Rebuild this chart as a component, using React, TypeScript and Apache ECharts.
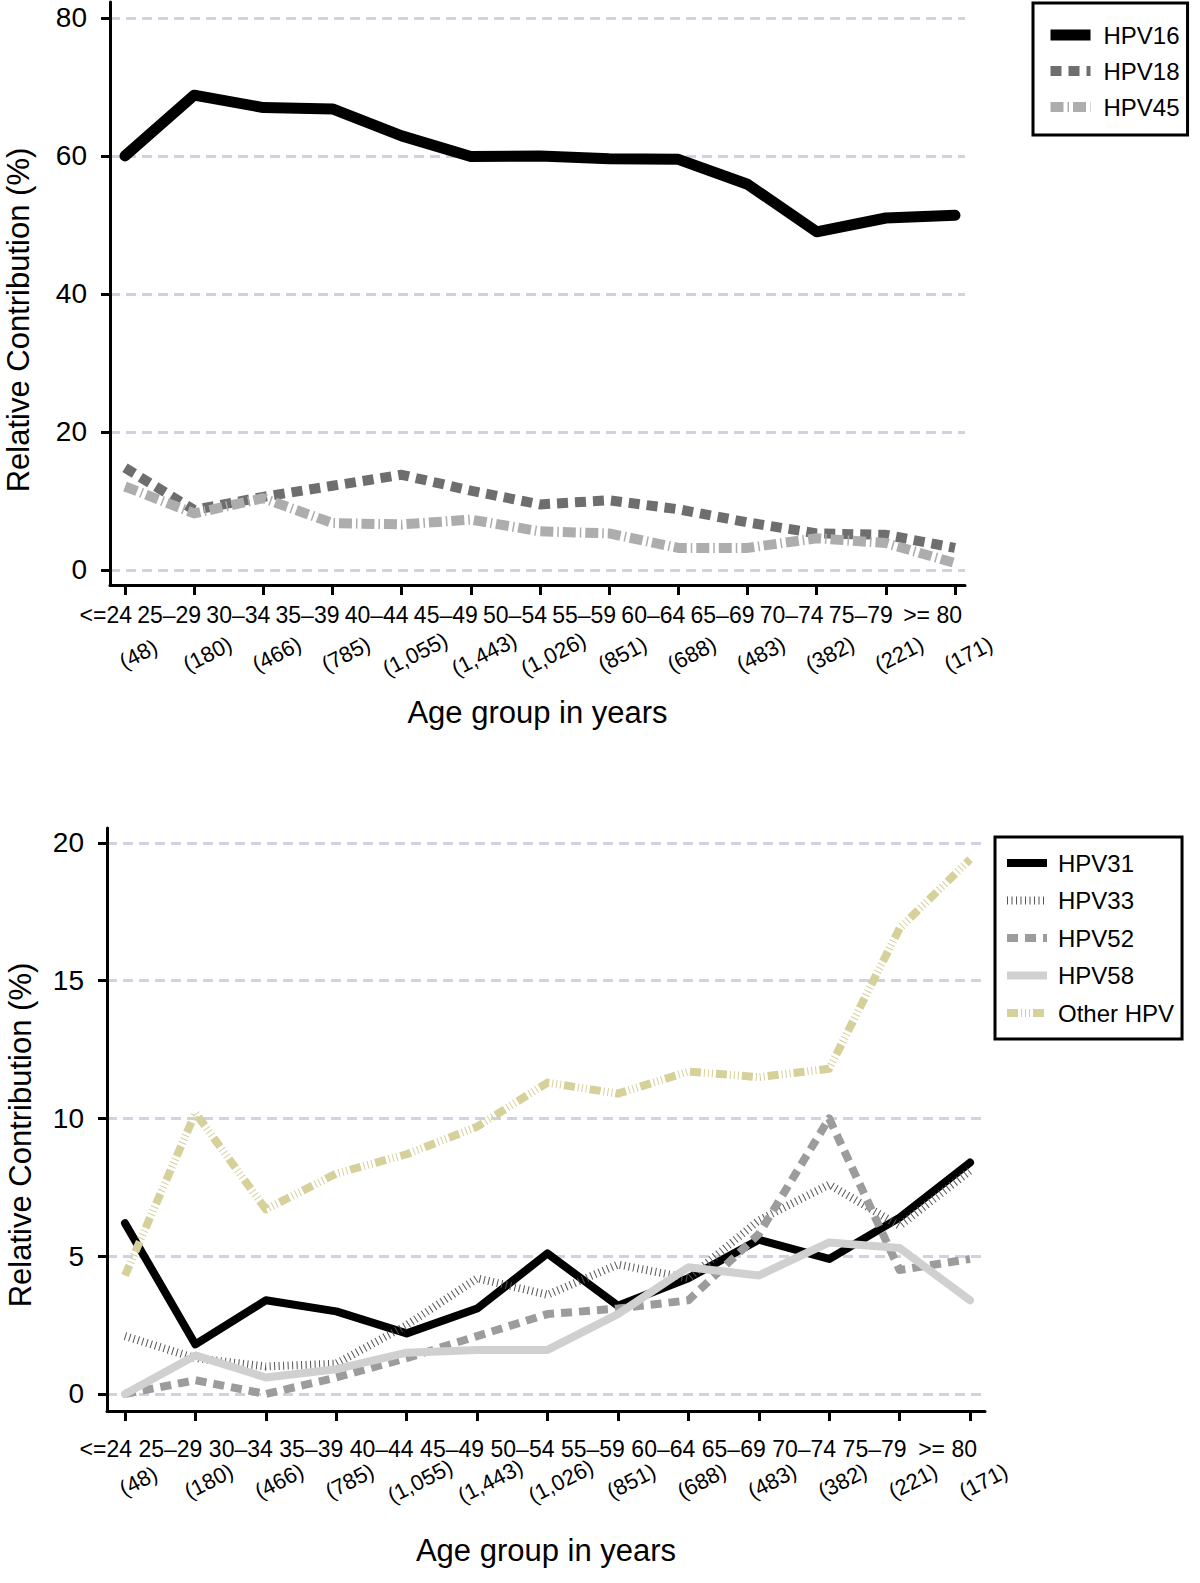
import React, { useEffect, useRef } from "react";
import * as echarts from "echarts";

const ageGroups = ["<=24", "25–29", "30–34", "35–39", "40–44", "45–49", "50–54", "55–59", "60–64", "65–69", "70–74", "75–79", ">= 80"];
const counts = ["(48)", "(180)", "(466)", "(785)", "(1,055)", "(1,443)", "(1,026)", "(851)", "(688)", "(483)", "(382)", "(221)", "(171)"];

// Top panel
const hpv16 = [60.0, 68.8, 67.0, 66.8, 62.9, 59.9, 60.0, 59.6, 59.5, 55.9, 49.0, 51.0, 51.4];
const hpv18 = [14.8, 8.7, 10.6, 12.2, 13.8, 11.5, 9.5, 10.1, 8.8, 6.9, 5.3, 5.1, 3.2];
const hpv45 = [12.1, 8.2, 10.4, 6.8, 6.6, 7.3, 5.6, 5.3, 3.2, 3.2, 4.6, 3.9, 1.0];

// Bottom panel
const hpv31 = [6.2, 1.8, 3.4, 3.0, 2.2, 3.1, 5.1, 3.2, 4.2, 5.6, 4.9, 6.4, 8.4];
const hpv33 = [2.1, 1.3, 1.0, 1.1, 2.5, 4.2, 3.6, 4.7, 4.2, 6.3, 7.6, 6.1, 8.1];
const hpv52 = [0.0, 0.5, 0.0, 0.6, 1.3, 2.1, 2.9, 3.1, 3.4, 5.8, 10.0, 4.5, 4.9];
const hpv58 = [0.0, 1.4, 0.6, 0.9, 1.5, 1.6, 1.6, 2.9, 4.6, 4.3, 5.5, 5.3, 3.4];
const otherHpv = [4.3, 10.2, 6.7, 8.0, 8.7, 9.7, 11.3, 10.9, 11.7, 11.5, 11.8, 16.9, 19.4];

const topTicks = [0, 20, 40, 60, 80];
const bottomTicks = [0, 5, 10, 15, 20];

const FONT = '"Liberation Sans", Arial, Helvetica, sans-serif';
const idx = ageGroups.map((_, i) => i);

function xAxes(gridIndex: number, min: number, max: number, labelMargin: number, countMargin: number, nameGap: number) {
  return [
    {
      type: "value",
      gridIndex,
      min,
      max,
      position: "bottom",
      axisLine: { show: true, onZero: false, lineStyle: { color: "#000", width: 3 } },
      axisTick: { show: true, length: 10, lineStyle: { color: "#000", width: 3 }, customValues: idx },
      axisLabel: {
        customValues: idx,
        formatter: (v: number) => ageGroups[Math.round(v)],
        fontSize: 23,
        fontFamily: FONT,
        color: "#000",
        margin: labelMargin,
        align: "right",
        padding: [0, -7, 0, 0],
      },
      splitLine: { show: false },
      name: "Age group in years",
      nameLocation: "middle",
      nameGap,
      nameTextStyle: { fontSize: 31, fontFamily: FONT, color: "#000" },
    },
    {
      type: "value",
      gridIndex,
      min,
      max,
      position: "bottom",
      axisLine: { show: false, onZero: false },
      axisTick: { show: false },
      axisLabel: {
        customValues: idx,
        formatter: (v: number) => counts[Math.round(v)],
        fontSize: 22,
        fontFamily: FONT,
        color: "#000",
        rotate: 27,
        align: "center",
        verticalAlign: "middle",
        margin: countMargin,
        padding: [0, 0, 0, 30],
      },
      splitLine: { show: false },
    },
  ];
}

function yAxis(gridIndex: number, min: number, max: number, ticks: number[]) {
  return {
    type: "value",
    gridIndex,
    min,
    max,
    axisLine: { show: true, onZero: false, lineStyle: { color: "#000", width: 3 } },
    axisTick: { show: true, length: 9, lineStyle: { color: "#000", width: 3 }, customValues: ticks },
    axisLabel: { customValues: ticks, fontSize: 28, fontFamily: FONT, color: "#000", margin: 23 },
    splitLine: { show: true, lineStyle: { color: "#cfd3df", width: 3, type: [10, 6] } },
  };
}

function line(name: string, values: number[], axis: number, color: string, width: number, dash: any, cap: string) {
  return {
    type: "line",
    name,
    xAxisIndex: axis === 0 ? 0 : 2,
    yAxisIndex: axis,
    data: values.map((v, i) => [i, v]),
    symbol: "none",
    showSymbol: false,
    itemStyle: { color },
    lineStyle: { color, width, type: dash, cap, join: "round" },
  };
}

export default function App() {
  const ref = useRef<HTMLDivElement>(null);
  useEffect(() => {
    if (!ref.current) return;
    const chart = echarts.init(ref.current, undefined, { renderer: "svg" });
    const legendCommon = {
      orient: "vertical",
      backgroundColor: "#fff",
      borderColor: "#000",
      borderWidth: 3,
      borderRadius: 0,
      itemWidth: 40,
      itemHeight: 14,
      selectedMode: false,
      itemStyle: { opacity: 0, borderWidth: 0 },
      lineStyle: { width: "inherit", cap: "butt" },
    };
    chart.setOption({
      animation: false,
      backgroundColor: "#fff",
      grid: [
        { left: 110, top: 2, width: 855, height: 583 },
        { left: 107, top: 828, width: 878, height: 583 },
      ],
      xAxis: [
        ...xAxes(0, -0.2169, 12.1446, 18, 76, 112),
        ...xAxes(1, -0.2556, 12.213, 26, 77, 124),
      ],
      yAxis: [yAxis(0, -2.174, 82.3, topTicks), yAxis(1, -0.617, 20.54, bottomTicks)],
      legend: [
        {
          ...legendCommon,
          left: 1033,
          top: 3,
          padding: [18, 8, 14, 12],
          itemGap: 8,
          data: ["HPV16", "HPV18", "HPV45"],
          textStyle: { fontSize: 24, fontFamily: FONT, color: "#000", lineHeight: 28, padding: [0, 0, 0, 8] },
        },
        {
          ...legendCommon,
          left: 995,
          top: 837,
          padding: [12, 8, 12, 8],
          itemGap: 9.5,
          data: ["HPV31", "HPV33", "HPV52", "HPV58", "Other HPV"],
          textStyle: { fontSize: 24, fontFamily: FONT, color: "#000", lineHeight: 28, padding: [0, 0, 0, 6] },
        },
      ],
      graphic: [
        {
          type: "text",
          x: 18,
          y: 320,
          rotation: Math.PI / 2,
          style: { text: "Relative Contribution (%)", fontSize: 31, fontFamily: FONT, fill: "#000", align: "center", verticalAlign: "middle" },
        },
        {
          type: "text",
          x: 20,
          y: 1135,
          rotation: Math.PI / 2,
          style: { text: "Relative Contribution (%)", fontSize: 31, fontFamily: FONT, fill: "#000", align: "center", verticalAlign: "middle" },
        },
      ],
      series: [
        line("HPV18", hpv18, 0, "#6e6e6e", 10, [11, 7], "butt"),
        line("HPV45", hpv45, 0, "#adadad", 10, [13, 4, 1.5, 4], "butt"),
        line("HPV16", hpv16, 0, "#000000", 11, "solid", "round"),
        line("HPV31", hpv31, 1, "#000000", 8, "solid", "round"),
        line("HPV33", hpv33, 1, "#555555", 8, [1, 3.5], "butt"),
        line("HPV52", hpv52, 1, "#9c9c9c", 8, [11, 7], "butt"),
        line("HPV58", hpv58, 1, "#d0d0d0", 8, "solid", "round"),
        line("Other HPV", otherHpv, 1, "#d6d09a", 8, [11, 3, 1, 3, 1, 3, 1, 3], "butt"),
      ],
    });
    return () => chart.dispose();
  }, []);
  return <div ref={ref} style={{ position: "absolute", left: 0, top: 0, width: 1200, height: 1583 }} />;
}
